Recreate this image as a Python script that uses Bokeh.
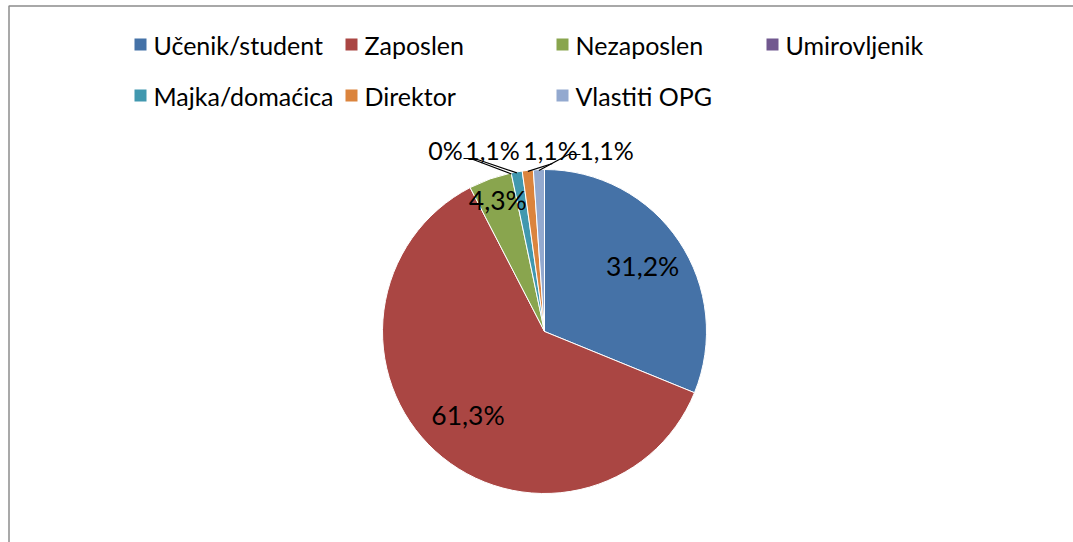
import math
from bokeh.plotting import figure
from bokeh.models import Range1d
from bokeh.embed import file_html
from bokeh.resources import INLINE
from bokeh.core.properties import value

# ---- data ----
categories = ["Učenik/student", "Zaposlen", "Nezaposlen", "Umirovljenik",
              "Majka/domaćica", "Direktor", "Vlastiti OPG"]
percent = [31.2, 61.3, 4.3, 0.0, 1.1, 1.1, 1.1]
colors = ["#4572A7", "#AA4643", "#89A54E", "#71588F", "#4198AF", "#DB843D", "#93A9CF"]

def fmt(v):
    return "0%" if v == 0 else (f"{v:.1f}".replace(".", ",") + "%")

labels = [fmt(v) for v in percent]

# ---- layout ----
W, H = 1073, 542
CX, CY, R = 544, 331, 162          # pie centre / radius in screen px
FONT = "Lato"
LEG_FS = "25px"
LAB_FS = "26.5px"
OUT_FS = "25px"

def Y(y):  # screen y -> data y
    return H - y

p = figure(width=W, height=H, x_range=Range1d(0, W), y_range=Range1d(0, H),
           output_backend="svg", toolbar_location=None, min_border=0)
p.axis.visible = False
p.grid.visible = False
p.outline_line_color = None
p.background_fill_color = "white"

# chart border (extends beyond the window to the right/bottom)
p.quad(left=[8.5], right=[W + 20], top=[Y(5.5)], bottom=[-20],
       fill_color=None, line_color="#8C8C8C", line_width=1.5)

# ---- pie ----
total = sum(percent)
cum = 0.0
mids = []
for v, c in zip(percent, colors):
    f0 = cum / total
    cum += v
    f1 = cum / total
    mids.append((f0 + f1) / 2)
    if v <= 0:
        continue
    start = math.pi / 2 - f1 * 2 * math.pi
    end = math.pi / 2 - f0 * 2 * math.pi
    p.wedge(x=CX, y=Y(CY), radius=R, start_angle=start, end_angle=end,
            direction="anticlock", fill_color=c, line_color="white", line_width=1)

def on_circle(frac, r):
    a = frac * 2 * math.pi
    return CX + r * math.sin(a), CY - r * math.cos(a)

# label radius (fraction of R) for inside labels; None = outside labels
inside_r = [0.73, 0.70, 0.86, None, None, None, None]
# outside label centres (screen px) and leader elbows
outside_pos = {3: (445, 149), 4: (492, 149), 5: (550, 149), 6: (606, 149)}
outside_elbow = {3: [(463, 158), (470, 158)],
                 4: [(466, 158), (474, 158)],
                 5: [(552, 163)],
                 6: [(580, 154), (568, 154)]}

for i, lab in enumerate(labels):
    if inside_r[i] is not None:
        x, y = on_circle(mids[i], R * inside_r[i])
        fs = LAB_FS
    else:
        x, y = outside_pos[i]
        fs = OUT_FS
        ex, ey = on_circle(mids[i], R - 1)
        pts = outside_elbow[i] + [(ex, ey)]
        p.line(x=[q[0] for q in pts], y=[Y(q[1]) for q in pts],
               line_color="black", line_width=1.2)
    p.text(x=[x], y=[Y(y)], text=[lab], text_font=value(FONT), text_font_size=fs,
           text_align="center", text_baseline="middle", text_color="black")

# ---- legend ----
leg_cols = [134, 345, 556, 766]
leg_rows = [44, 95]
SQ = 12
for i, (cat, c) in enumerate(zip(categories, colors)):
    lx = leg_cols[i % 4]
    ly = leg_rows[i // 4]
    p.quad(left=[lx], right=[lx + SQ], top=[Y(ly - SQ / 2)], bottom=[Y(ly + SQ / 2)],
           fill_color=c, line_color=None)
    p.text(x=[lx + SQ + 7], y=[Y(ly)], text=[cat], text_font=value(FONT),
           text_font_size=LEG_FS, text_align="left", text_baseline="middle",
           text_color="black")

open("out.html", "w").write(file_html(p, INLINE))
